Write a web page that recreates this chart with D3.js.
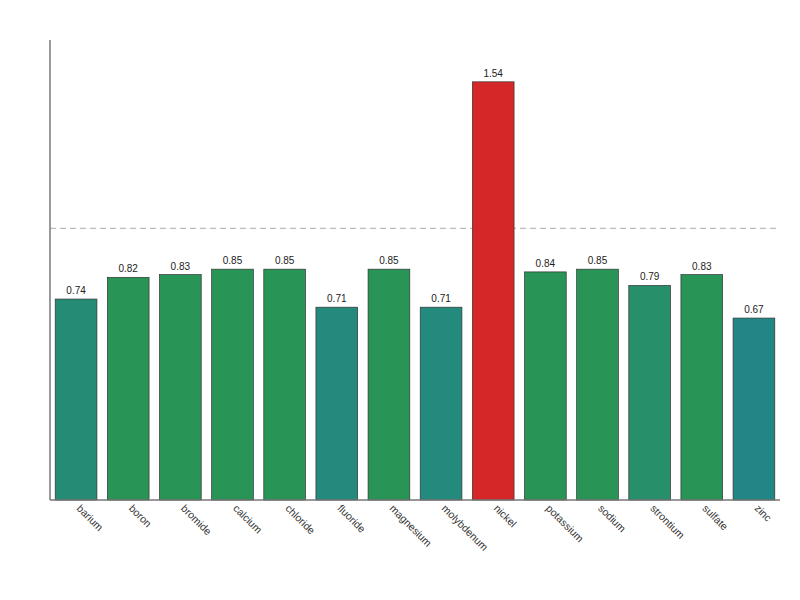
<!DOCTYPE html>
<html>
<head>
<meta charset="utf-8" />
<script src="https://d3js.org/d3.v7.min.js"></script>
<style>
  body { margin: 0; background: #fff; }
  text { font-family: "Liberation Sans", Arial, sans-serif; }
</style>
</head>
<body>
<div id="chart"></div>
<script>
// data
var elements = ["barium", "boron", "bromide", "calcium", "chloride", "fluoride", "magnesium",
                "molybdenum", "nickel", "potassium", "sodium", "strontium", "sulfate", "zinc"];
var ratios = [0.74, 0.82, 0.83, 0.85, 0.85, 0.71, 0.85, 0.71, 1.54, 0.84, 0.85, 0.79, 0.83, 0.67];
var refValue = 1.0;

var W = 800, H = 600;
var margin = {top: 40, right: 20, bottom: 100, left: 50};
var width = W - margin.left - margin.right,
    height = H - margin.top - margin.bottom;

// colour by value: teal for low, green for ~0.8+, red above reference
function barColor(v) {
  if (v > refValue) return "#d62728";
  var c = d3.scaleLinear()
    .domain([0.67, 0.71, 0.74, 0.79, 0.82])
    .range(["#238686", "#248a7e", "#268b75", "#278f6a", "#289556"])
    .clamp(true);
  return c(v);
}

var svg = d3.select("#chart").append("svg")
    .attr("width", W).attr("height", H)
  .append("g")
    .attr("transform", "translate(" + margin.left + "," + margin.top + ")");

var x = d3.scaleBand()
    .domain(elements)
    .range([0, width])
    .paddingInner(0.2)
    .paddingOuter(0.1);

var y = d3.scaleLinear()
    .domain([0, d3.max(ratios) * 1.1])
    .range([height, 0]);

// reference line
svg.append("line")
    .attr("x1", 0).attr("x2", width - 4)
    .attr("y1", y(refValue)).attr("y2", y(refValue))
    .attr("stroke", "#bbbbbb")
    .attr("stroke-width", 1.2)
    .attr("stroke-dasharray", "6,4");

// bars
svg.selectAll("rect.bar")
  .data(elements)
  .enter().append("rect")
    .attr("class", "bar")
    .attr("x", function(d) { return x(d); })
    .attr("width", x.bandwidth())
    .attr("y", function(d, i) { return y(ratios[i]); })
    .attr("height", function(d, i) { return height - y(ratios[i]); })
    .attr("fill", function(d, i) { return barColor(ratios[i]); })
    .attr("stroke", "#333")
    .attr("stroke-width", 0.7);

// value labels
svg.selectAll("text.val")
  .data(elements)
  .enter().append("text")
    .attr("class", "val")
    .attr("x", function(d) { return x(d) + x.bandwidth() / 2; })
    .attr("y", function(d, i) { return y(ratios[i]) - 5; })
    .attr("text-anchor", "middle")
    .attr("font-size", "10px")
    .attr("fill", "#222")
    .text(function(d, i) { return ratios[i].toFixed(2); });

// category labels, rotated
svg.selectAll("text.cat")
  .data(elements)
  .enter().append("text")
    .attr("class", "cat")
    .attr("transform", function(d) {
      return "translate(" + (x(d) + x.bandwidth() / 2) + "," + (height + 9) + ") rotate(45)";
    })
    .attr("text-anchor", "start")
    .attr("font-size", "10.5px")
    .attr("fill", "#333")
    .text(function(d) { return d; });

// axes lines (no ticks)
svg.append("line")
    .attr("x1", 0).attr("x2", 0)
    .attr("y1", 0).attr("y2", height)
    .attr("stroke", "#777").attr("stroke-width", 1.5);
svg.append("line")
    .attr("x1", 0).attr("x2", width)
    .attr("y1", height).attr("y2", height)
    .attr("stroke", "#777").attr("stroke-width", 1.5);
</script>
</body>
</html>
